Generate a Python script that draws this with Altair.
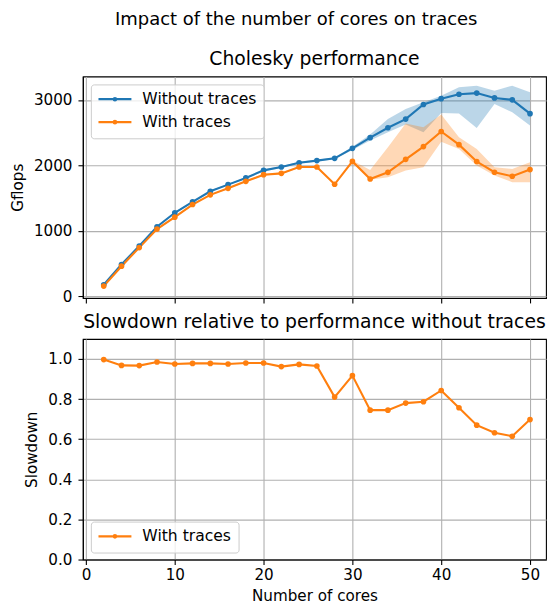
import altair as alt
import pandas as pd

FONT = "DejaVu Sans"
BLUE = "#1f77b4"
ORANGE = "#ff7f0e"
LABEL_SIZE = 15.2
SUPTITLE_SIZE = 18
TITLE_SIZE = 18.8

cores = [2, 4, 6, 8, 10, 12, 14, 16, 18, 20, 22, 24, 26, 28, 30, 32, 34, 36, 38, 40, 42, 44, 46, 48, 50]

without_mean = [172, 482, 766, 1061, 1274, 1441, 1603, 1705, 1807, 1923, 1974, 2040, 2072,
                2107, 2260, 2423, 2575, 2707, 2931, 3020, 3088, 3105, 3031, 3002, 2790]
without_lower = [166, 476, 759, 1053, 1264, 1431, 1592, 1694, 1796, 1910, 1961, 2026, 2058,
                 2093, 2236, 2378, 2506, 2625, 2505, 2800, 2791, 2572, 2938, 2811, 2608]
without_upper = [179, 489, 773, 1069, 1285, 1451, 1614, 1716, 1818, 1936, 1987, 2054, 2086,
                 2121, 2284, 2470, 2709, 2862, 2964, 3066, 3193, 3219, 3142, 3219, 3117]

with_mean = [152, 457, 741, 1024, 1207, 1400, 1548, 1648, 1755, 1857, 1877, 1974, 1974,
             1710, 2060, 1791, 1893, 2092, 2287, 2518, 2316, 2058, 1894, 1833, 1935]
with_lower = [146, 450, 733, 1015, 1197, 1390, 1538, 1638, 1745, 1845, 1865, 1962, 1962,
              1698, 2044, 1780, 1818, 1920, 1971, 2360, 2251, 1997, 1844, 1742, 1742]
with_upper = [159, 465, 750, 1033, 1218, 1410, 1558, 1658, 1765, 1869, 1889, 1986, 1986,
              1722, 2074, 1930, 2277, 2640, 2583, 2779, 2429, 2251, 1971, 1945, 2047]

slowdown = [0.997, 0.968, 0.967, 0.985, 0.975, 0.978, 0.978, 0.975, 0.980, 0.980, 0.962, 0.973,
            0.965, 0.810, 0.917, 0.745, 0.745, 0.780, 0.787, 0.843, 0.757, 0.670, 0.632, 0.615, 0.698]

series_names = ["Without traces", "With traces"]

perf = pd.DataFrame({
    "cores": cores + cores,
    "series": [series_names[0]] * len(cores) + [series_names[1]] * len(cores),
    "gflops": without_mean + with_mean,
    "lower": without_lower + with_lower,
    "upper": without_upper + with_upper,
})
slow = pd.DataFrame({"cores": cores, "series": ["With traces"] * len(cores), "slowdown": slowdown})

# legend symbol: a line with a dot in its middle (matplotlib style), drawn to the right of its anchor
LINE_SYMBOL = "M-1.3,0L4.7,0M1.92,0A0.22,0.22,0,1,1,1.48,0A0.22,0.22,0,1,1,1.92,0Z"

x_scale = alt.Scale(domain=[-0.35, 51.8], nice=False, zero=False)
top_color = alt.Scale(domain=series_names, range=[BLUE, ORANGE])
bot_color = alt.Scale(domain=["With traces"], range=[ORANGE])

legend_style = dict(
    title=None, symbolType=LINE_SYMBOL, symbolSize=121, symbolStrokeWidth=2.2,
    labelFont=FONT, labelFontSize=15.6, labelColor="#000000", labelOffset=29,
    fillColor="rgba(255,255,255,0.8)", strokeColor="#cccccc", cornerRadius=3,
    padding=7, rowPadding=6, orient="none",
)

W = 464

band = alt.Chart(perf).mark_area(opacity=0.3).encode(
    x=alt.X("cores:Q", scale=x_scale,
            axis=alt.Axis(values=[0, 10, 20, 30, 40, 50], labels=False, title=None)),
    y=alt.Y("lower:Q", scale=alt.Scale(domain=[-30, 3360], nice=False, zero=False),
            axis=alt.Axis(values=[0, 1000, 2000, 3000], format="d", title="Gflops")),
    y2="upper:Q",
    fill=alt.Fill("series:N", scale=top_color, legend=None),
)
lines = alt.Chart(perf).mark_line(strokeWidth=2.1, point=alt.OverlayMarkDef(filled=True, size=32)).encode(
    x=alt.X("cores:Q", scale=x_scale),
    y=alt.Y("gflops:Q"),
    color=alt.Color("series:N", scale=top_color,
                    legend=alt.Legend(legendX=8, legendY=8, **legend_style)),
)
top = alt.layer(band, lines).properties(
    width=W, height=222,
    title=alt.TitleParams("Cholesky performance", font=FONT, fontSize=TITLE_SIZE,
                          fontWeight="normal", color="#000000", offset=8),
)

bottom = alt.Chart(slow).mark_line(strokeWidth=2.1, point=alt.OverlayMarkDef(filled=True, size=32)).encode(
    x=alt.X("cores:Q", scale=x_scale,
            axis=alt.Axis(values=[0, 10, 20, 30, 40, 50], title="Number of cores",
                          labelPadding=3, titlePadding=6)),
    y=alt.Y("slowdown:Q", scale=alt.Scale(domain=[0, 1.1], nice=False, zero=False),
            axis=alt.Axis(values=[0, 0.2, 0.4, 0.6, 0.8, 1.0], format=".1f", title="Slowdown")),
    color=alt.Color("series:N", scale=bot_color,
                    legend=alt.Legend(legendX=8, legendY=183, **legend_style)),
).properties(
    width=W, height=221,
    title=alt.TitleParams("Slowdown relative to performance without traces", font=FONT,
                          fontSize=TITLE_SIZE, fontWeight="normal", color="#000000", offset=7),
)

chart = alt.vconcat(top, bottom, spacing=7).resolve_scale(color="independent").properties(
    title=alt.TitleParams("Impact of the number of cores on traces", font=FONT, fontSize=SUPTITLE_SIZE,
                          fontWeight="normal", color="#000000", anchor="middle", offset=20, dx=18),
    padding={"left": 1, "top": 2, "right": 0, "bottom": 0},
    background="white",
).configure_view(
    stroke="#000000", strokeWidth=1.1,
).configure_axis(
    domainColor="#000000", domainWidth=1.1, tickColor="#000000", tickWidth=1.1, tickSize=4.9,
    labelFont=FONT, labelFontSize=LABEL_SIZE, labelColor="#000000",
    titleFont=FONT, titleFontSize=LABEL_SIZE, titleFontWeight="normal", titleColor="#000000",
    gridColor="#b0b0b0", gridWidth=1.1,
).configure_axisY(
    labelPadding=6, titlePadding=8,
)

chart.save("out.html", embed_options={"renderer": "svg", "actions": False})
